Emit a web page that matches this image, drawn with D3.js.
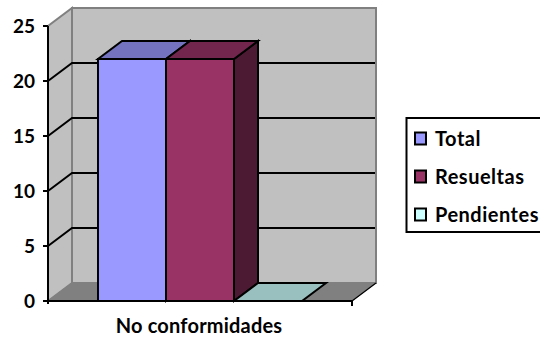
<!DOCTYPE html>
<html>
<head>
<meta charset="utf-8">
<script src="https://cdn.jsdelivr.net/npm/d3@7"></script>
<style>
html,body{margin:0;padding:0;background:#fff;overflow:hidden}
text{font-family:Lato,"Open Sans",sans-serif;font-weight:700;fill:#000}
</style>
</head>
<body>
<svg id="chart" width="540" height="337"></svg>
<script>
// Clustered 3-D column chart
const categories = ["No conformidades"];
const seriesNames = ["Total", "Resueltas", "Pendientes"];
const seriesValues = [22, 22, 0];
const tickValues = [0, 5, 10, 15, 20, 25];
const frontColors = ["#9999ff", "#993366", "#ccffff"];
const topColors = ["#7373bf", "#73264d", "#99bfbf"];
const sideColors = ["#5c5c99", "#4d1a33", "#7a9999"];

const svg = d3.select("#chart");
const dx = 24, dy = -18;
const left = 48, right = 352;
const y = d3.scaleLinear().domain([0, 25]).range([301, 26]);
const xCat = d3.scaleBand().domain(categories).range([left, right]);
const x = d3.scaleBand().domain(seriesNames).range([98, 302]);
const line = d3.line();

function poly(points, fill, stroke, width) {
  svg.append("path").attr("d", line(points) + "Z")
    .attr("fill", fill).attr("stroke", stroke).attr("stroke-width", width)
    .attr("stroke-linejoin", "miter");
}

// Walls and floor
const y0 = y(0), yTop = y(25);
poly([[left, y0], [left + dx, y0 + dy], [left + dx, yTop + dy], [left, yTop]], "#c0c0c0", "#808080", 2);
poly([[left + dx, y0 + dy], [right + dx, y0 + dy], [right + dx, yTop + dy], [left + dx, yTop + dy]], "#c0c0c0", "#808080", 2);
poly([[left, y0], [right, y0], [right + dx, y0 + dy], [left + dx, y0 + dy]], "#808080", "#808080", 1);

// Gridlines run along the side wall and across the back wall
const grid = tickValues.filter(d => d > 0 && d < 25);
svg.append("g").selectAll("path").data(grid).join("path")
  .attr("d", d => line([[left, y(d)], [left + dx, y(d) + dy], [right + dx - 1, y(d) + dy]]))
  .attr("fill", "none").attr("stroke", "#000").attr("stroke-width", 2);

// Columns
seriesNames.forEach((name, i) => {
  const v = seriesValues[i];
  const x0 = x(name), x1 = x0 + x.bandwidth(), yv = y(v);
  if (v > 0) {
    poly([[x1, y0], [x1 + dx, y0 + dy], [x1 + dx, yv + dy], [x1, yv]], sideColors[i], "#000", 2);
    poly([[x0, y0], [x1, y0], [x1, yv], [x0, yv]], frontColors[i], "#000", 2);
  }
  poly([[x0, yv], [x1, yv], [x1 + dx, yv + dy], [x0 + dx, yv + dy]], topColors[i], "#000", 2);
});

// Value axis
svg.append("path").attr("d", line([[left, yTop], [left, y0 + 3]]))
  .attr("stroke", "#000").attr("stroke-width", 2).attr("fill", "none");
const ticks = svg.append("g").selectAll("g").data(tickValues).join("g");
ticks.append("line").attr("x1", left - 5).attr("x2", left)
  .attr("y1", d => y(d)).attr("y2", d => y(d))
  .attr("stroke", "#000").attr("stroke-width", 2);
ticks.append("text").attr("x", 35).attr("y", d => y(d)).attr("dy", "0.36em")
  .attr("text-anchor", "end").attr("font-size", 19).text(d => d);

// Category axis
svg.append("path").attr("d", line([[left, y0], [right, y0]]))
  .attr("stroke", "#000").attr("stroke-width", 2).attr("fill", "none");
svg.append("path").attr("d", line([[right, y0], [right, y0 + 5]]))
  .attr("stroke", "#000").attr("stroke-width", 2).attr("fill", "none");
svg.append("path").attr("d", line([[right, y0], [right + dx, y0 + dy]]))
  .attr("stroke", "#000").attr("stroke-width", 1.2).attr("fill", "none");
svg.append("text").attr("x", xCat(categories[0]) + xCat.bandwidth() / 2 - 1).attr("y", 333)
  .attr("text-anchor", "middle").attr("font-size", 20).attr("letter-spacing", 0.2).text(categories[0]);

// Legend
const legendY = d3.scalePoint().domain(seriesNames).range([139, 215]);
svg.append("rect").attr("x", 406.5).attr("y", 118).attr("width", 140).attr("height", 114)
  .attr("fill", "#fff").attr("stroke", "#000").attr("stroke-width", 2);
const items = svg.append("g").selectAll("g").data(seriesNames).join("g");
items.append("rect").attr("x", 415).attr("y", d => legendY(d) - 6.5).attr("width", 11).attr("height", 12)
  .attr("fill", (d, i) => frontColors[i]).attr("stroke", "#000").attr("stroke-width", 2);
items.append("text").attr("x", 435).attr("y", d => legendY(d)).attr("dy", "0.36em")
  .attr("font-size", 20).attr("letter-spacing", 0.5).text(d => d);
</script>
</body>
</html>
